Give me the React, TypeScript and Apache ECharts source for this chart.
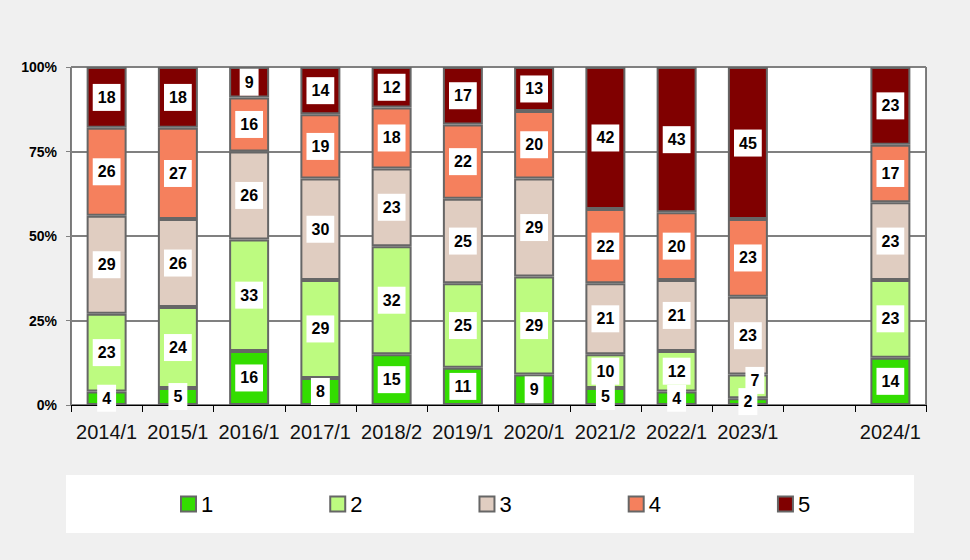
import React, { useEffect, useRef } from "react";
import * as echarts from "echarts";

const categories = ["2014/1", "2015/1", "2016/1", "2017/1", "2018/2", "2019/1", "2020/1", "2021/2", "2022/1", "2023/1", "", "2024/1"];
const seriesNames = ["1", "2", "3", "4", "5"];
const s1 = [4, 5, 16, 8, 15, 11, 9, 5, 4, 2, null, 14];
const s2 = [23, 24, 33, 29, 32, 25, 29, 10, 12, 7, null, 23];
const s3 = [29, 26, 26, 30, 23, 25, 29, 21, 21, 23, null, 23];
const s4 = [26, 27, 16, 19, 18, 22, 20, 22, 20, 23, null, 17];
const s5 = [18, 18, 9, 14, 12, 17, 13, 42, 43, 45, null, 23];
const yTicks = [0, 25, 50, 75, 100];

const colors = ["#33dd00", "#bdfb80", "#e0cdc1", "#f5805d", "#800000"];
// label nudges to avoid overlap (series index, category index) -> [dx, dy]
const nudges: Record<string, [number, number]> = { "1|9": [7, -6] };

export default function App() {
  const ref = useRef<HTMLDivElement>(null);
  useEffect(() => {
    if (!ref.current) return;
    const chart = echarts.init(ref.current, undefined, { renderer: "svg" });
    const all = [s1, s2, s3, s4, s5];
    const series = all.map((vals, si) => ({
      name: seriesNames[si],
      type: "bar",
      stack: "total",
      barWidth: 40,
      itemStyle: { color: colors[si], borderColor: "#666666", borderWidth: 2 },
      label: {
        show: true,
        position: "inside",
        color: "#000",
        fontFamily: "Liberation Sans",
        fontWeight: "bold",
        fontSize: 16,
        lineHeight: 16,
        backgroundColor: "#fff",
        padding: [6, 5, 5, 5],
      },
      data: vals.map((v, ci) => {
        const n = nudges[si + "|" + ci];
        if (v == null) return "-";
        if (n) return { value: v, label: { offset: n } };
        return v;
      }),
    }));
    chart.setOption({
      animation: false,
      backgroundColor: "#f0f0f0",
      grid: {
        left: 71,
        right: 44,
        top: 67,
        bottom: 155,
        show: true,
        backgroundColor: "#fff",
        borderColor: "#000",
        borderWidth: 1,
      },
      graphic: [
        {
          type: "rect",
          shape: { x: 66, y: 475, width: 848, height: 58 },
          style: { fill: "#fff" },
          z: -1,
        },
      ],
      legend: {
        left: 175,
        top: 488,
        itemWidth: 15,
        itemHeight: 15,
        itemGap: 116,
        icon: "rect",
        textStyle: { fontFamily: "Liberation Sans", fontSize: 22, color: "#000" },
        data: seriesNames,
      },
      xAxis: {
        type: "category",
        data: categories,
        axisLine: { lineStyle: { color: "#000", width: 1 } },
        axisTick: { show: true, length: 7, lineStyle: { color: "#000" } },
        axisLabel: {
          fontFamily: "Liberation Sans",
          fontSize: 20,
          color: "#111",
          margin: 17,
          interval: 0,
        },
      },
      yAxis: {
        type: "value",
        min: yTicks[0],
        max: yTicks[yTicks.length - 1],
        interval: 25,
        axisLine: { show: true, lineStyle: { color: "#808080", width: 1 } },
        axisTick: { show: true, length: 5, lineStyle: { color: "#808080" } },
        splitLine: { lineStyle: { color: "#808080", width: 2 } },
        axisLabel: {
          formatter: "{value}%",
          fontFamily: "Liberation Sans",
          fontWeight: "bold",
          fontSize: 14,
          color: "#000",
          margin: 14,
        },
      },
      series,
    });
    return () => chart.dispose();
  }, []);
  return (
    <div
      ref={ref}
      style={{ position: "fixed", left: 0, top: 0, width: 970, height: 560 }}
    />
  );
}
